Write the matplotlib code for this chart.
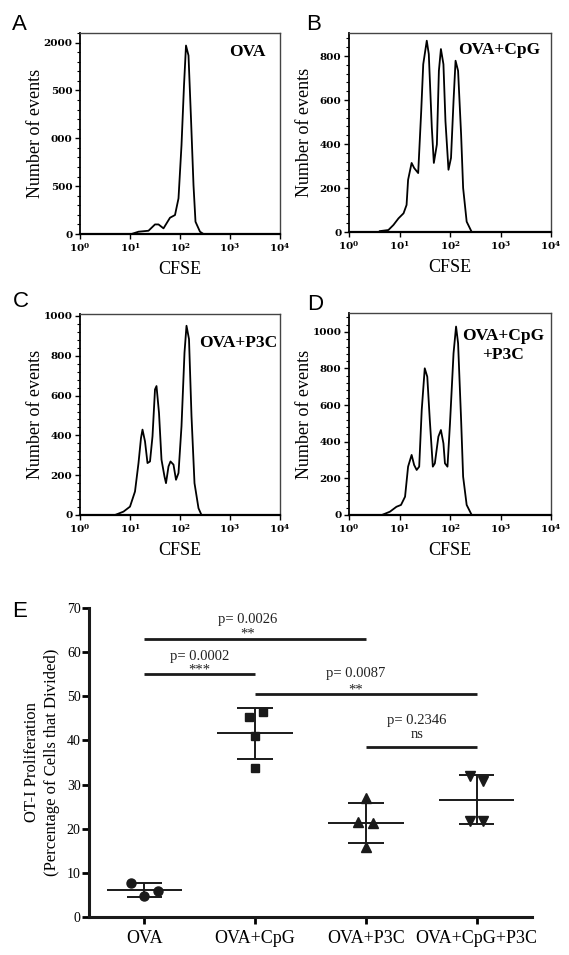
# CFSE dilution histograms (A-D) and OT-I proliferation summary (E)

import numpy as np
import matplotlib
matplotlib.use('Agg')
import matplotlib.pyplot as plt
from matplotlib.ticker import AutoMinorLocator, LogLocator, NullFormatter

plt.rcParams['font.family'] = ['Liberation Serif', 'DejaVu Serif']
plt.rcParams['mathtext.fontset'] = 'custom'
plt.rcParams['mathtext.rm'] = 'DejaVu Serif:bold'
plt.rcParams['mathtext.it'] = 'DejaVu Serif:bold'
plt.rcParams['mathtext.bf'] = 'DejaVu Serif:bold'
plt.rcParams['mathtext.default'] = 'rm'

# ---- histogram traces, x = log10(CFSE), y = number of events ----
ova_logx = [1.03, 1.17, 1.37, 1.50, 1.57, 1.67, 1.80, 1.90, 1.97, 2.03, 2.08, 2.12,
            2.17, 2.22, 2.27, 2.31, 2.40, 2.47]
ova_counts = [0, 24, 34, 100, 100, 59, 170, 198, 372, 927, 1552, 1969,
              1865, 1205, 510, 128, 24, 0]

cpg_logx = [0.61, 0.78, 0.88, 0.98, 1.08, 1.14, 1.17, 1.24, 1.29, 1.37, 1.43, 1.47,
            1.54, 1.58, 1.64, 1.68, 1.74, 1.78, 1.82, 1.87, 1.91, 1.97, 2.02, 2.07,
            2.11, 2.16, 2.22, 2.26, 2.33, 2.43]
cpg_counts = [4, 9, 32, 62, 85, 123, 237, 314, 291, 268, 550, 763,
              870, 809, 474, 314, 398, 733, 832, 763, 504, 283, 337, 596,
              779, 733, 443, 200, 47, 0]

p3c_logx = [0.70, 0.87, 1.00, 1.10, 1.17, 1.22, 1.25, 1.30, 1.35, 1.40, 1.45, 1.50,
            1.53, 1.58, 1.63, 1.69, 1.72, 1.77, 1.81, 1.87, 1.92, 1.97, 2.03, 2.09,
            2.13, 2.18, 2.23, 2.29, 2.37, 2.43]
p3c_counts = [0, 17, 42, 118, 261, 387, 429, 370, 261, 269, 395, 631,
              648, 513, 278, 193, 160, 244, 269, 253, 177, 211, 446, 816,
              951, 884, 497, 160, 34, 0]

cpgp3c_logx = [0.65, 0.81, 0.94, 1.03, 1.11, 1.17, 1.24, 1.29, 1.34, 1.39, 1.44, 1.50,
               1.55, 1.60, 1.66, 1.70, 1.77, 1.82, 1.87, 1.90, 1.95, 2.00, 2.07, 2.12,
               2.16, 2.22, 2.26, 2.33, 2.43]
cpgp3c_counts = [0, 18, 45, 55, 100, 264, 328, 273, 246, 264, 573, 801,
                 755, 519, 264, 282, 428, 464, 391, 282, 264, 501, 883, 1029,
                 938, 519, 209, 55, 0]

# ---- panel E: percentage of divided cells per mouse ----
groups = ['OVA', 'OVA+CpG', 'OVA+P3C', 'OVA+CpG+P3C']
ova_vals = [7.7, 6.0, 4.7]
cpg_vals = [45.4, 46.4, 41.1, 33.7]
p3c_vals = [27.0, 21.5, 21.2, 15.9]
cpgp3c_vals = [31.9, 30.7, 21.7, 21.8]

sig_pairs = [(1, 3), (1, 2), (2, 4), (3, 4)]
sig_heights = [63, 55, 50.5, 38.5]
sig_pvals = ['p= 0.0026', 'p= 0.0002', 'p= 0.0087', 'p= 0.2346']
sig_marks = ['**', '***', '**', 'ns']


W, H = 569, 955
fig = plt.figure(figsize=(W / 100, H / 100), dpi=100)


def fig_rect(left, top, right, bottom):
    return [left / W, 1 - bottom / H, (right - left) / W, (bottom - top) / H]


def plot_hist(rect, logx, counts, ymax, yticks, ylabels, tag, tag_x, tag_y, tag_ha):
    ax = fig.add_axes(rect)
    ax.plot(10 ** np.array(logx), counts, color='black', lw=1.3)
    ax.set_xscale('log')
    ax.set_xlim(1, 1e4)
    ax.set_ylim(0, ymax)
    ax.set_xticks([1, 10, 100, 1000, 10000])
    ax.set_xticklabels(['$10^{%d}$' % i for i in range(5)])
    ax.xaxis.set_minor_locator(LogLocator(base=10, subs=np.arange(2, 10)))
    ax.xaxis.set_minor_formatter(NullFormatter())
    ax.set_yticks(yticks)
    ax.set_yticklabels(ylabels)
    ax.yaxis.set_minor_locator(AutoMinorLocator(5))
    ax.tick_params(which='major', direction='out', length=3.5, width=1, pad=2)
    ax.tick_params(which='minor', direction='out', length=2, width=0.8)
    for lab in ax.get_yticklabels() + ax.get_xticklabels():
        lab.set_fontfamily('DejaVu Serif')
        lab.set_fontweight('bold')
        lab.set_fontsize(7.5)
    for side in ['top', 'right']:
        ax.spines[side].set_linewidth(1.0)
        ax.spines[side].set_color('#444444')
    ax.spines['left'].set_linewidth(1.3)
    ax.spines['bottom'].set_linewidth(1.6)
    ax.set_ylabel('Number of events', fontsize=13)
    ax.yaxis.set_label_coords(-0.18, 0.5)
    ax.set_xlabel('CFSE', fontsize=13)
    ax.xaxis.set_label_coords(0.5, -0.135)
    ax.text(tag_x, tag_y, tag, transform=ax.transAxes, ha=tag_ha, va='center',
            fontsize=12.5, fontweight='bold', linespacing=1.3)
    return ax


plot_hist(fig_rect(80, 33, 280, 234), ova_logx, ova_counts, 2100,
          [0, 500, 1000, 1500, 2000], ['0', '500', '000', '500', '2000'],
          'OVA', 0.93, 0.905, 'right')
plot_hist(fig_rect(349, 33, 551, 232), cpg_logx, cpg_counts, 905,
          [0, 200, 400, 600, 800], ['0', '200', '400', '600', '800'],
          'OVA+CpG', 0.945, 0.915, 'right')
plot_hist(fig_rect(80, 314, 280, 515), p3c_logx, p3c_counts, 1010,
          [0, 200, 400, 600, 800, 1000], ['0', '200', '400', '600', '800', '1000'],
          'OVA+P3C', 0.985, 0.858, 'right')
plot_hist(fig_rect(349, 313, 551, 515), cpgp3c_logx, cpgp3c_counts, 1103,
          [0, 200, 400, 600, 800, 1000], ['0', '200', '400', '600', '800', '1000'],
          'OVA+CpG\n+P3C', 0.765, 0.84, 'center')

# ---- panel E ----
ax = fig.add_axes(fig_rect(89, 608, 532, 917))
all_vals = [ova_vals, cpg_vals, p3c_vals, cpgp3c_vals]
jitter = [[-0.12, 0.125, 0.0],
          [-0.057, 0.07, 0.0, 0.0],
          [0.0, -0.067, 0.06, 0.0],
          [-0.06, 0.06, -0.06, 0.06]]
markers = ['o', 's', '^', 'v']
msizes = [6.5, 6, 6.5, 6.5]
for i, vals in enumerate(all_vals):
    x = i + 1
    m = np.mean(vals)
    sd = np.std(vals, ddof=1)
    ax.plot(x + np.array(jitter[i]), vals, linestyle='none', marker=markers[i],
            ms=msizes[i], color='#1a1a1a', zorder=3)
    ax.hlines(m, x - 0.34, x + 0.34, color='#1a1a1a', lw=1.4, zorder=2)
    ax.hlines([m - sd, m + sd], x - 0.16, x + 0.16, color='#1a1a1a', lw=1.4, zorder=2)
    ax.vlines(x, m - sd, m + sd, color='#1a1a1a', lw=1.4, zorder=2)

text_shift = [-0.07, 0.0, -0.09, -0.04]
p_offset = [4.4, 4.1, 4.6, 6.1]
mark_offset = [1.0, 1.0, 1.0, 2.9]
for (a, b), h, p, s, dx, po, mo in zip(sig_pairs, sig_heights, sig_pvals, sig_marks,
                                       text_shift, p_offset, mark_offset):
    ax.hlines(h, a, b, color='#1a1a1a', lw=2.0)
    xc = (a + b) / 2 + dx
    ax.text(xc, h + po, p, ha='center', va='center', fontsize=10.5, color='#222222')
    ax.text(xc, h + mo, s, ha='center', va='center', fontsize=10.5, color='#222222')

ax.set_xlim(0.5, 4.5)
ax.set_ylim(0, 70)
ax.set_xticks([1, 2, 3, 4])
ax.set_xticklabels(groups, fontsize=13)
ax.set_yticks(np.arange(0, 71, 10))
ax.tick_params(axis='y', direction='out', length=5, width=2, labelsize=10, pad=1)
ax.tick_params(axis='x', direction='out', length=5, width=2, pad=4)
for side in ['top', 'right']:
    ax.spines[side].set_visible(False)
for side in ['left', 'bottom']:
    ax.spines[side].set_linewidth(2.2)
    ax.spines[side].set_color('#1a1a1a')
ax.set_ylabel('OT-I Proliferation\n(Percentage of Cells that Divided)', fontsize=12,
              linespacing=1.35)
ax.yaxis.set_label_coords(-0.066, 0.5)

# panel letters
for letter, lx, ty in [('A', 12, 14), ('B', 306, 14), ('C', 13, 291),
                       ('D', 307, 294), ('E', 12, 601)]:
    fig.text(lx / W, 1 - ty / H, letter, ha='left', va='top', fontsize=16,
             family=['Liberation Sans', 'DejaVu Sans'])

fig.savefig('out.png', dpi=100)
